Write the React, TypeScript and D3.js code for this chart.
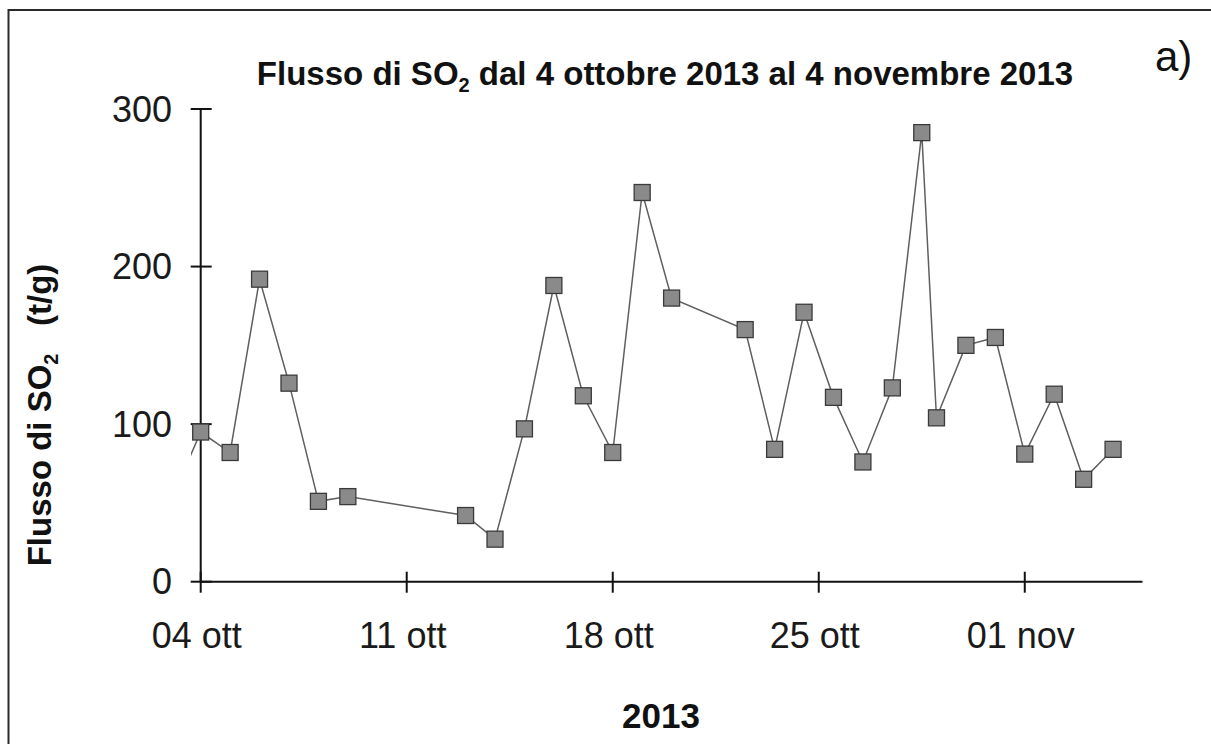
import React from "react";
import * as d3 from "d3";

const dates: string[] = [
  "2013-10-03T00", "2013-10-04T00", "2013-10-05T00", "2013-10-06T00", "2013-10-07T00",
  "2013-10-08T00", "2013-10-09T00", "2013-10-13T00", "2013-10-14T00", "2013-10-15T00",
  "2013-10-16T00", "2013-10-17T00", "2013-10-18T00", "2013-10-19T00", "2013-10-20T00",
  "2013-10-22T12", "2013-10-23T12", "2013-10-24T12", "2013-10-25T12", "2013-10-26T12",
  "2013-10-27T12", "2013-10-28T12", "2013-10-29T00", "2013-10-30T00", "2013-10-31T00",
  "2013-11-01T00", "2013-11-02T00", "2013-11-03T00", "2013-11-04T00",
];
const values: number[] = [
  52, 95, 82, 192, 126,
  51, 54, 42, 27, 97,
  188, 118, 82, 247, 180,
  160, 84, 171, 117, 76,
  123, 285, 104, 150, 155,
  81, 119, 65, 84,
];
const xTickDates: string[] = ["2013-10-04T00", "2013-10-11T00", "2013-10-18T00", "2013-10-25T00", "2013-11-01T00"];
const xTickLabels: string[] = ["04 ott", "11 ott", "18 ott", "25 ott", "01 nov"];
const yTicks: number[] = [0, 100, 200, 300];
const xDomain: string[] = ["2013-10-04T00", "2013-11-05T00"];

const parse = d3.utcParse("%Y-%m-%dT%H");

export default function App() {
  const W = 1211, H = 744;
  const left = 200.7, right = 1142.5, top = 109, bottom = 581.7;
  const x = d3.scaleUtc().domain(xDomain.map((s) => parse(s) as Date)).range([left, right]);
  const y = d3.scaleLinear().domain([0, 300]).range([bottom, top]);
  const pts = dates.map((d, i) => ({ t: parse(d) as Date, v: values[i] }));
  const line = d3.line<{ t: Date; v: number }>().x((d) => x(d.t)).y((d) => y(d.v));
  const font = "'Liberation Sans', Arial, sans-serif";
  const ms = 16;
  return (
    <svg width={W} height={H} style={{ position: "absolute", left: 0, top: 0, background: "#fff" }} fontFamily={font}>
      <rect x={0} y={0} width={W} height={H} fill="#fff" />
      <rect x={8.5} y={10} width={1210} height={745} fill="none" stroke="#2a2a2a" strokeWidth={2} />
      <defs>
        <clipPath id="plotClip">
          <rect x={191} y={90} width={right - 191 + 5} height={bottom - 90 + 5} />
        </clipPath>
      </defs>
      {/* Title */}
      <text x={665} y={85} textAnchor="middle" fontSize={33} fontWeight="bold" fill="#111">
        Flusso di SO<tspan dy={7} fontSize={20}>2</tspan>
        <tspan dy={-7}> dal 4 ottobre 2013 al 4 novembre 2013</tspan>
      </text>
      <text x={1155} y={71} fontSize={42} fill="#111">a)</text>
      {/* Y axis title */}
      <text
        transform={`translate(51,415) rotate(-90)`}
        textAnchor="middle"
        fontSize={33}
        fontWeight="bold"
        fill="#111"
        style={{ whiteSpace: "pre" }}
      >
        Flusso di SO<tspan dy={7} fontSize={20}>2</tspan>
        <tspan dy={-7}>{"   (t/g)"}</tspan>
      </text>
      {/* X axis title */}
      <text x={661} y={728} textAnchor="middle" fontSize={35} fontWeight="bold" fill="#111">2013</text>
      {/* Axes */}
      <line x1={left} x2={left} y1={top} y2={bottom} stroke="#111" strokeWidth={2} />
      <line x1={left} x2={right} y1={bottom} y2={bottom} stroke="#111" strokeWidth={2} />
      {yTicks.map((t) => (
        <g key={t}>
          <line x1={left - 10} x2={left + 11} y1={y(t)} y2={y(t)} stroke="#111" strokeWidth={2} />
          <text x={172} y={y(t) + 12.5} textAnchor="end" fontSize={36} fill="#1a1a1a">{t}</text>
        </g>
      ))}
      {xTickDates.map((d, i) => {
        const xx = x(parse(d) as Date);
        return (
          <g key={d}>
            <line x1={xx} x2={xx} y1={bottom - 10} y2={bottom + 11} stroke="#111" strokeWidth={2} />
            <text x={xx - 4} y={648} textAnchor="middle" fontSize={36} fill="#1a1a1a">{xTickLabels[i]}</text>
          </g>
        );
      })}
      {/* Series */}
      <g clipPath="url(#plotClip)">
        <path d={line(pts) || ""} fill="none" stroke="#5f5f5f" strokeWidth={1.5} />
        {pts.map((p, i) => (
          <rect
            key={i}
            x={x(p.t) - ms / 2}
            y={y(p.v) - ms / 2}
            width={ms}
            height={ms}
            fill="#8a8a8a"
            stroke="#3a3a3a"
            strokeWidth={1.3}
          />
        ))}
      </g>
    </svg>
  );
}
